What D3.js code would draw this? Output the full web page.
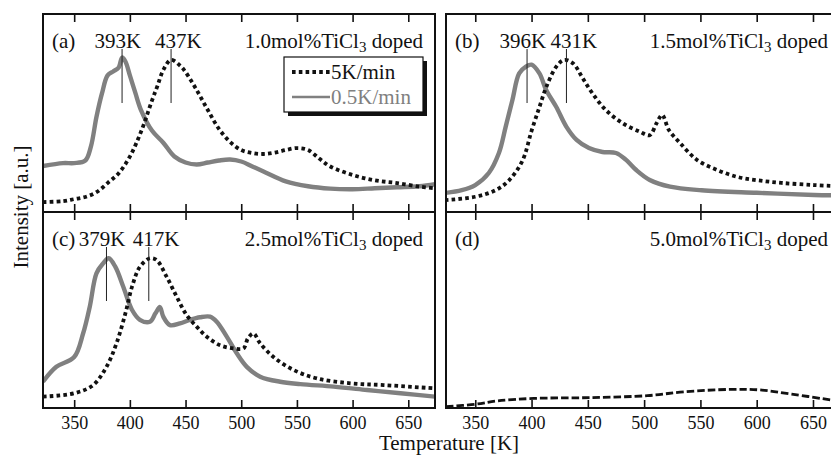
<!DOCTYPE html>
<meta charset="utf-8">
<style>
body { margin: 0; background: #fff; }
text { font-family: "Liberation Serif", "DejaVu Serif", serif; fill: #111; }
.tick text { font-size: 18px; }
</style>
<svg width="831" height="456"></svg>
<script src="https://d3js.org/d3.v7.min.js"></script>
<script>

// tick values on the temperature axis
var tempTicks = [350, 400, 450, 500, 550, 600, 650];

// panel captions
var panelTags = ["(a)", "(b)", "(c)", "(d)"];
var dopings = ["1.0", "1.5", "2.5", "5.0"];

// peak temperatures marked in each panel [K]
var peaks = [[393, 437], [396, 431], [379, 417], []];

// intensity curves, [temperature K, intensity a.u. (0..100 of panel height)]
var aFast = [[322,5],[340,5.5],[350,6.5],[360,7.6],[370,10],[380,14.6],[390,19.6],[400,28],[410,40.5],[420,56.5],[425,64],[430,71.7],[437,76.8],[445,74],[450,70.7],[460,61.6],[470,51.5],[480,42],[490,35.4],[500,31.3],[510,29.8],[520,29.3],[530,30],[540,31.3],[550,32.3],[560,31.3],[570,27],[580,23],[600,18.7],[620,16],[640,14.6],[660,12.8],[674,12]];
var aSlow = [[322,23.2],[340,24.7],[350,24.7],[360,26],[365,33],[370,48],[375,60],[380,69],[385,71],[390,73],[393,78],[396,76],[400,69],[405,60],[410,51.5],[420,41],[430,35],[440,28],[450,25],[460,24],[470,25],[480,26],[490,26.5],[500,25.5],[510,23],[520,20.5],[540,15.5],[560,13],[580,11.8],[600,11.5],[620,12],[640,12.5],[660,13],[674,14]];

var bFast = [[323,6],[350,7.7],[368,11],[380,16],[392,26],[400,41],[407,53],[413,63],[422,73.4],[429,76.8],[437,75],[445,68],[454,60],[466,51.5],[481,44.8],[496,40.6],[505,38.8],[511,44.8],[516,49],[522,41.4],[532,34.8],[547,26.3],[565,21.2],[583,17.7],[601,16],[622,14.7],[651,13.6],[674,13]];
var bSlow = [[323,9.6],[338,11],[350,13.6],[362,19.7],[371,29.8],[377,43],[383,56.6],[389,70],[395,73.4],[400,74.4],[407,70],[413,61.6],[422,53],[431,43],[440,36.4],[451,32.3],[463,30.3],[475,29.8],[484,26.3],[493,21.2],[505,16.2],[523,12.8],[551,11],[600,9.7],[651,8.6],[674,8.4]];

var cFast = [[322,5.8],[350,7.5],[367,11.7],[379,21],[388,33],[396,48.3],[402,62],[409,72],[418,76.4],[424,75.5],[433,67],[442,56.8],[451,47.4],[460,41.5],[469,36.4],[481,32],[493,30.4],[502,30.4],[506,35.5],[511,38],[517,33],[529,26],[547,19.4],[568,15.1],[598,12.6],[628,11.7],[674,10]];
var cSlow = [[322,13.4],[334,21],[350,26],[358,38],[364,51.7],[370,68.7],[376,73.8],[381,76.4],[387,72],[394,62],[402,50],[409,45],[418,44],[423,48.3],[427,51.5],[430,46.6],[436,42.3],[445,43.2],[454,45],[463,46.3],[472,46.6],[478,44],[487,36.4],[496,27.9],[505,21],[517,16],[535,13.4],[553,12.2],[583,10.9],[613,9.2],[643,7.5],[674,5.8]];

var dFast = [[324,0.7],[350,1.9],[369,3.6],[402,4.9],[452,5.3],[503,6.3],[536,8.3],[578,9.5],[603,9.2],[631,7.1],[667,4],[674,3.4]];

var legendLabels = ["5K/min", "0.5K/min"];

var svg = d3.select("svg");
var grey = "#808080";

var panels = [
  {x0: 43, x1: 435, y0: 14, y1: 212, dom: [322, 674], fast: aFast, slow: aSlow},
  {x0: 446, x1: 840, y0: 14, y1: 212, dom: [324, 674], fast: bFast, slow: bSlow},
  {x0: 43, x1: 435, y0: 212, y1: 408, dom: [322, 674], fast: cFast, slow: cSlow},
  {x0: 446, x1: 840, y0: 212, y1: 408, dom: [324, 674], fast: dFast, slow: null}
];

panels.forEach(function(p, i) {
  var x = d3.scaleLinear().domain(p.dom).range([p.x0, p.x1]);
  var y = d3.scaleLinear().domain([0, 100]).range([p.y1, p.y0]);
  var g = svg.append("g");

  g.append("clipPath").attr("id", "clip" + i)
    .append("rect").attr("x", p.x0).attr("y", p.y0)
    .attr("width", p.x1 - p.x0).attr("height", p.y1 - p.y0);

  var line = d3.line()
      .x(function(d) { return x(d[0]); })
      .y(function(d) { return y(d[1]); })
      .curve(d3.curveCatmullRom.alpha(0.5));

  var plot = g.append("g").attr("clip-path", "url(#clip" + i + ")");
  if (p.slow) {
    plot.append("path").datum(p.slow)
        .attr("d", line).attr("fill", "none")
        .attr("stroke", grey).attr("stroke-width", 4.4)
        .attr("stroke-linejoin", "round");
  }
  plot.append("path").datum(p.fast)
      .attr("d", line).attr("fill", "none")
      .attr("stroke", "#111")
      .attr("stroke-width", i == 3 ? 2.8 : 3.8)
      .attr("stroke-dasharray", i == 3 ? "7.5,3" : "3.6,3.2");

  // top and bottom axes with inward ticks
  var top = g.append("g").attr("transform", "translate(0," + p.y0 + ")")
      .call(d3.axisTop(x).tickValues(tempTicks).tickSize(-8).tickFormat(""));
  var bottom = g.append("g").attr("transform", "translate(0," + p.y1 + ")")
      .call(d3.axisBottom(x).tickValues(tempTicks).tickSize(-8).tickPadding(8)
        .tickFormat(i >= 2 ? d3.format("d") : ""));
  [top, bottom].forEach(function(a) {
    a.select(".domain").remove();
    a.selectAll("line").attr("stroke", "#111").attr("stroke-width", 1.6);
    a.selectAll("text").attr("fill", "#222").attr("font-family", "Liberation Serif");
  });

  g.append("rect")
      .attr("x", p.x0).attr("y", p.y0)
      .attr("width", p.x1 - p.x0).attr("height", p.y1 - p.y0)
      .attr("fill", "none").attr("stroke", "#111").attr("stroke-width", 2);

  // captions
  g.append("text").attr("x", p.x0 + 9).attr("y", p.y0 + 34)
      .style("font-size", "21px").text(panelTags[i]);

  var cap = g.append("text").attr("x", p.x1 - 12).attr("y", p.y0 + 34)
      .attr("text-anchor", "end").style("font-size", "21px");
  cap.append("tspan").text(dopings[i] + "mol%TiCl");
  cap.append("tspan").attr("font-size", "15px").attr("dy", 4).text("3");
  cap.append("tspan").attr("dy", -4).text(" doped");

  // peak markers
  peaks[i].forEach(function(t, k) {
    g.append("line")
        .attr("x1", x(t)).attr("x2", x(t))
        .attr("y1", p.y0 + 35).attr("y2", p.y0 + 89)
        .attr("stroke", "#222").attr("stroke-width", 1);
    g.append("text")
        .attr("x", k == 0 ? x(t) + 19 : x(t) - 16)
        .attr("y", p.y0 + 34)
        .attr("text-anchor", k == 0 ? "end" : "start")
        .style("font-size", "21px")
        .text(t + "K");
  });
});

// legend in panel (a)
var lg = svg.append("g").attr("transform", "translate(284,57)");
lg.append("rect").attr("x", 4).attr("y", 4).attr("width", 139).attr("height", 55).attr("fill", "#111");
lg.append("rect").attr("width", 139).attr("height", 55).attr("fill", "#fff")
    .attr("stroke", "#111").attr("stroke-width", 1.2);
legendLabels.forEach(function(lab, k) {
  var yy = 15 + k * 25;
  lg.append("line").attr("x1", 8).attr("x2", 46).attr("y1", yy).attr("y2", yy)
      .attr("stroke", k == 0 ? "#111" : grey)
      .attr("stroke-width", k == 0 ? 3.8 : 2.5)
      .attr("stroke-dasharray", k == 0 ? "3.6,3.2" : null);
  lg.append("text").attr("x", 47).attr("y", yy + 7)
      .style("font-size", "21px")
      .style("fill", k == 0 ? "#111" : grey)
      .text(lab);
});

// axis titles
svg.append("text")
    .attr("transform", "translate(28,207) rotate(-90)")
    .attr("text-anchor", "middle")
    .style("font-size", "21px")
    .text("Intensity [a.u.]");

svg.append("text")
    .attr("x", 449).attr("y", 450)
    .attr("text-anchor", "middle")
    .style("font-size", "21px")
    .text("Temperature [K]");

</script>
